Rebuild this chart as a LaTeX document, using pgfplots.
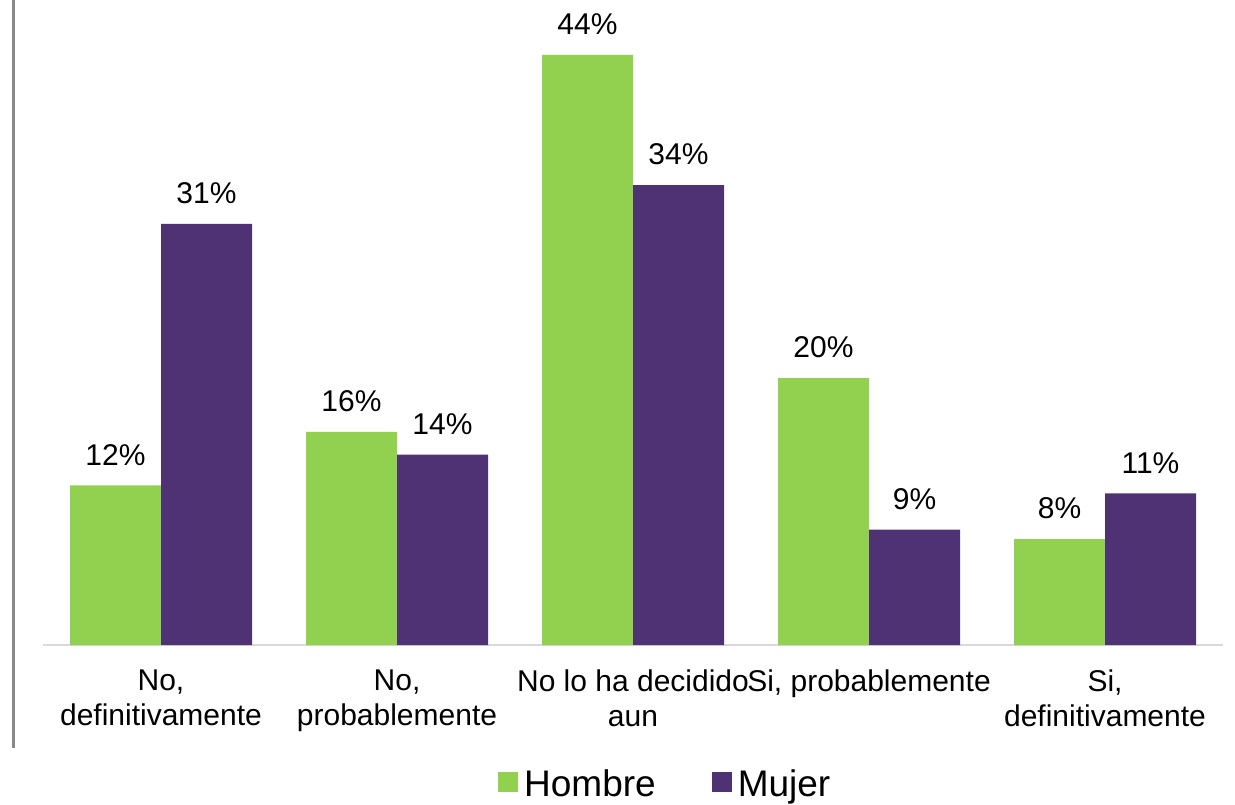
\documentclass[border=0pt]{standalone}
\usepackage{fontspec}
\setmainfont{Liberation Sans}
\usepackage{pgfplots}
\pgfplotsset{compat=1.18}

\definecolor{hgreen}{HTML}{92D050}
\definecolor{mpurple}{HTML}{4F3273}
\definecolor{baseline}{HTML}{D9D9D9}
\definecolor{sidegray}{HTML}{898989}

\begin{document}
\begin{tikzpicture}
\begin{axis}[
    at={(0,0)}, anchor=south west,
    scale only axis,
    width=590pt, height=322.5pt,
    ybar=0pt, bar width=45.5pt,
    xmin=-0.5, xmax=4.5,
    ymin=0, ymax=48.1,
    axis x line*=bottom,
    hide y axis,
    x axis line style={draw=baseline, line width=1pt, -},
    xtick={0,1,2,3,4},
    xticklabels={{No,\\definitivamente},{No,\\probablemente},{No lo ha decidido\\aun},{Si, probablemente},{Si,\\definitivamente}},
    major tick length=0pt,
    x tick label style={font=\fontsize{15}{17.5}\selectfont, align=center, anchor=north, yshift=-9pt},
    ytick=\empty,
    /pgf/number format/assume math mode=true,
    nodes near coords={\pgfmathprintnumber[fixed,precision=0]{\pgfplotspointmeta}\%},
    every node near coord/.append style={font=\fontsize{15}{17}\selectfont, text=black, yshift=6.5pt},
    legend columns=2,
    legend image code/.code={\fill[#1] (1pt,-3.5pt) rectangle (11pt,6.5pt);},
    legend style={draw=none, fill=none, at={(axis description cs:0.529,-0.217)}, anchor=center,
        font=\fontsize{18.5}{22}\selectfont,
        /tikz/every even column/.append style={column sep=25pt},
        nodes={inner xsep=3pt}},
    clip=false,
]
\addplot[fill=hgreen, draw=none] coordinates {(0,11.9) (1,15.9) (2,44) (3,19.9) (4,7.9)};
\addplot[fill=mpurple, draw=none] coordinates {(0,31.4) (1,14.2) (2,34.3) (3,8.6) (4,11.3)};
\legend{Hombre, Mujer}
\end{axis}
\draw[sidegray, line width=1.5pt] (-15pt,322.5pt) -- (-15pt,-51.5pt);
\pgfresetboundingbox
\path[use as bounding box] (-21.5pt,-79.5pt) rectangle (596pt,322.5pt);
\end{tikzpicture}
\end{document}
